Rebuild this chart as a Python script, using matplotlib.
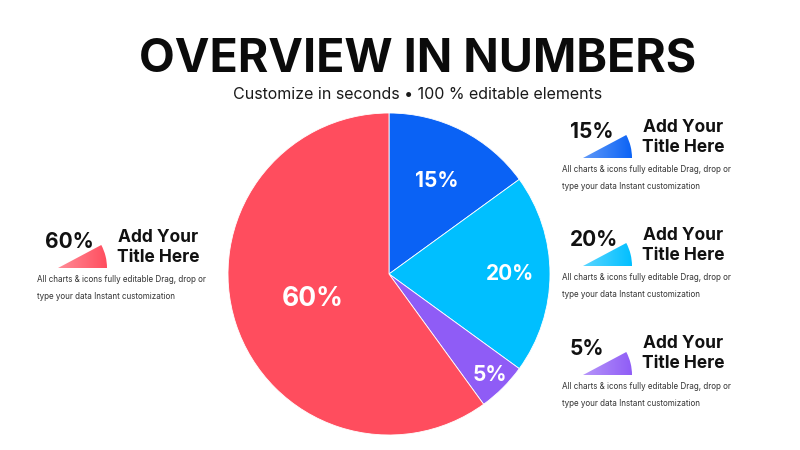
import numpy as np
import matplotlib
matplotlib.use("Agg")
import matplotlib.pyplot as plt
from matplotlib.patches import Wedge
from matplotlib.colors import to_rgb

plt.rcParams['font.family'] = ['Inter', 'DejaVu Sans']

# data
labels = ["15%", "20%", "5%", "60%"]
values = [15, 20, 5, 60]
colors = ["#0A62F5", "#00BFFF", "#8F5CF6", "#FF4D5E"]
label_dist = [0.65, 0.75, 0.89, 0.50]

title = "OVERVIEW IN NUMBERS"
subtitle = "Customize in seconds \u2022 100 % editable elements"
card_title = ["Add Your", "Title Here"]
card_text = "All charts & icons fully editable Drag, drop or\ntype your data Instant customization"

W, H = 800, 450
fig = plt.figure(figsize=(8, 4.5), dpi=100)
ax = fig.add_axes([0, 0, 1, 1])
ax.axis('off')


def Y(y):
    return H - y


cx, cy, R = 389, Y(274), 161
wedges, _ = ax.pie(values, colors=colors, startangle=90, counterclock=False,
                   center=(cx, cy), radius=R,
                   wedgeprops=dict(edgecolor='white', linewidth=0.6))
ax.set_xlim(0, W)
ax.set_ylim(0, H)
ax.set_aspect('equal')

for w, lab, d in zip(wedges, labels, label_dist):
    mid = np.deg2rad((w.theta1 + w.theta2) / 2)
    ax.text(cx + d * R * np.cos(mid), cy + d * R * np.sin(mid), lab,
            ha='center', va='center', color='white',
            fontsize=15 if lab != "60%" else 19, fontweight='bold')

ax.text(418, Y(72), title, ha='center', va='baseline', fontsize=33.5,
        fontweight='bold', color='#0b0b0b')
ax.text(418, Y(99), subtitle, ha='center', va='baseline', fontsize=11.5,
        color='#1a1a1a')

# card anchors (left edge / vertical centre of the percentage, px)
card_pos = [(570, 132), (570, 240), (570, 349), (45, 242)]


def gradient_wedge(x0, y0, color):
    wd = Wedge((x0, y0), 49, 0, 28, facecolor='none', edgecolor='none')
    ax.add_patch(wd)
    c = np.array(to_rgb(color))
    light = c + (1 - c) * 0.35
    t = np.linspace(0, 1, 64)[None, :, None]
    img = light * (1 - t) + c * t
    im = ax.imshow(img, extent=(x0, x0 + 50, y0, y0 + 25), origin='lower',
                   aspect='auto', zorder=2)
    im.set_clip_path(wd)


for i, (px, py) in enumerate(card_pos):
    ax.text(px, Y(py), labels[i], ha='left', va='center', fontsize=15,
            fontweight='bold', color='#111111')
    gradient_wedge(px + 13, Y(py + 26), colors[i])
    for k, line in enumerate(card_title):
        ax.text(px + 113, Y(py - 5 + 20 * k), line, ha='center', va='center',
                fontsize=12.5, fontweight='bold', color='#111111')
    ax.text(px - 8, Y(py + 46), card_text, ha='left', va='center',
            fontsize=5.8, color='#333333', linespacing=2.1)

ax.set_xlim(0, W)
ax.set_ylim(0, H)
fig.savefig("out.png", dpi=100, facecolor='white')
